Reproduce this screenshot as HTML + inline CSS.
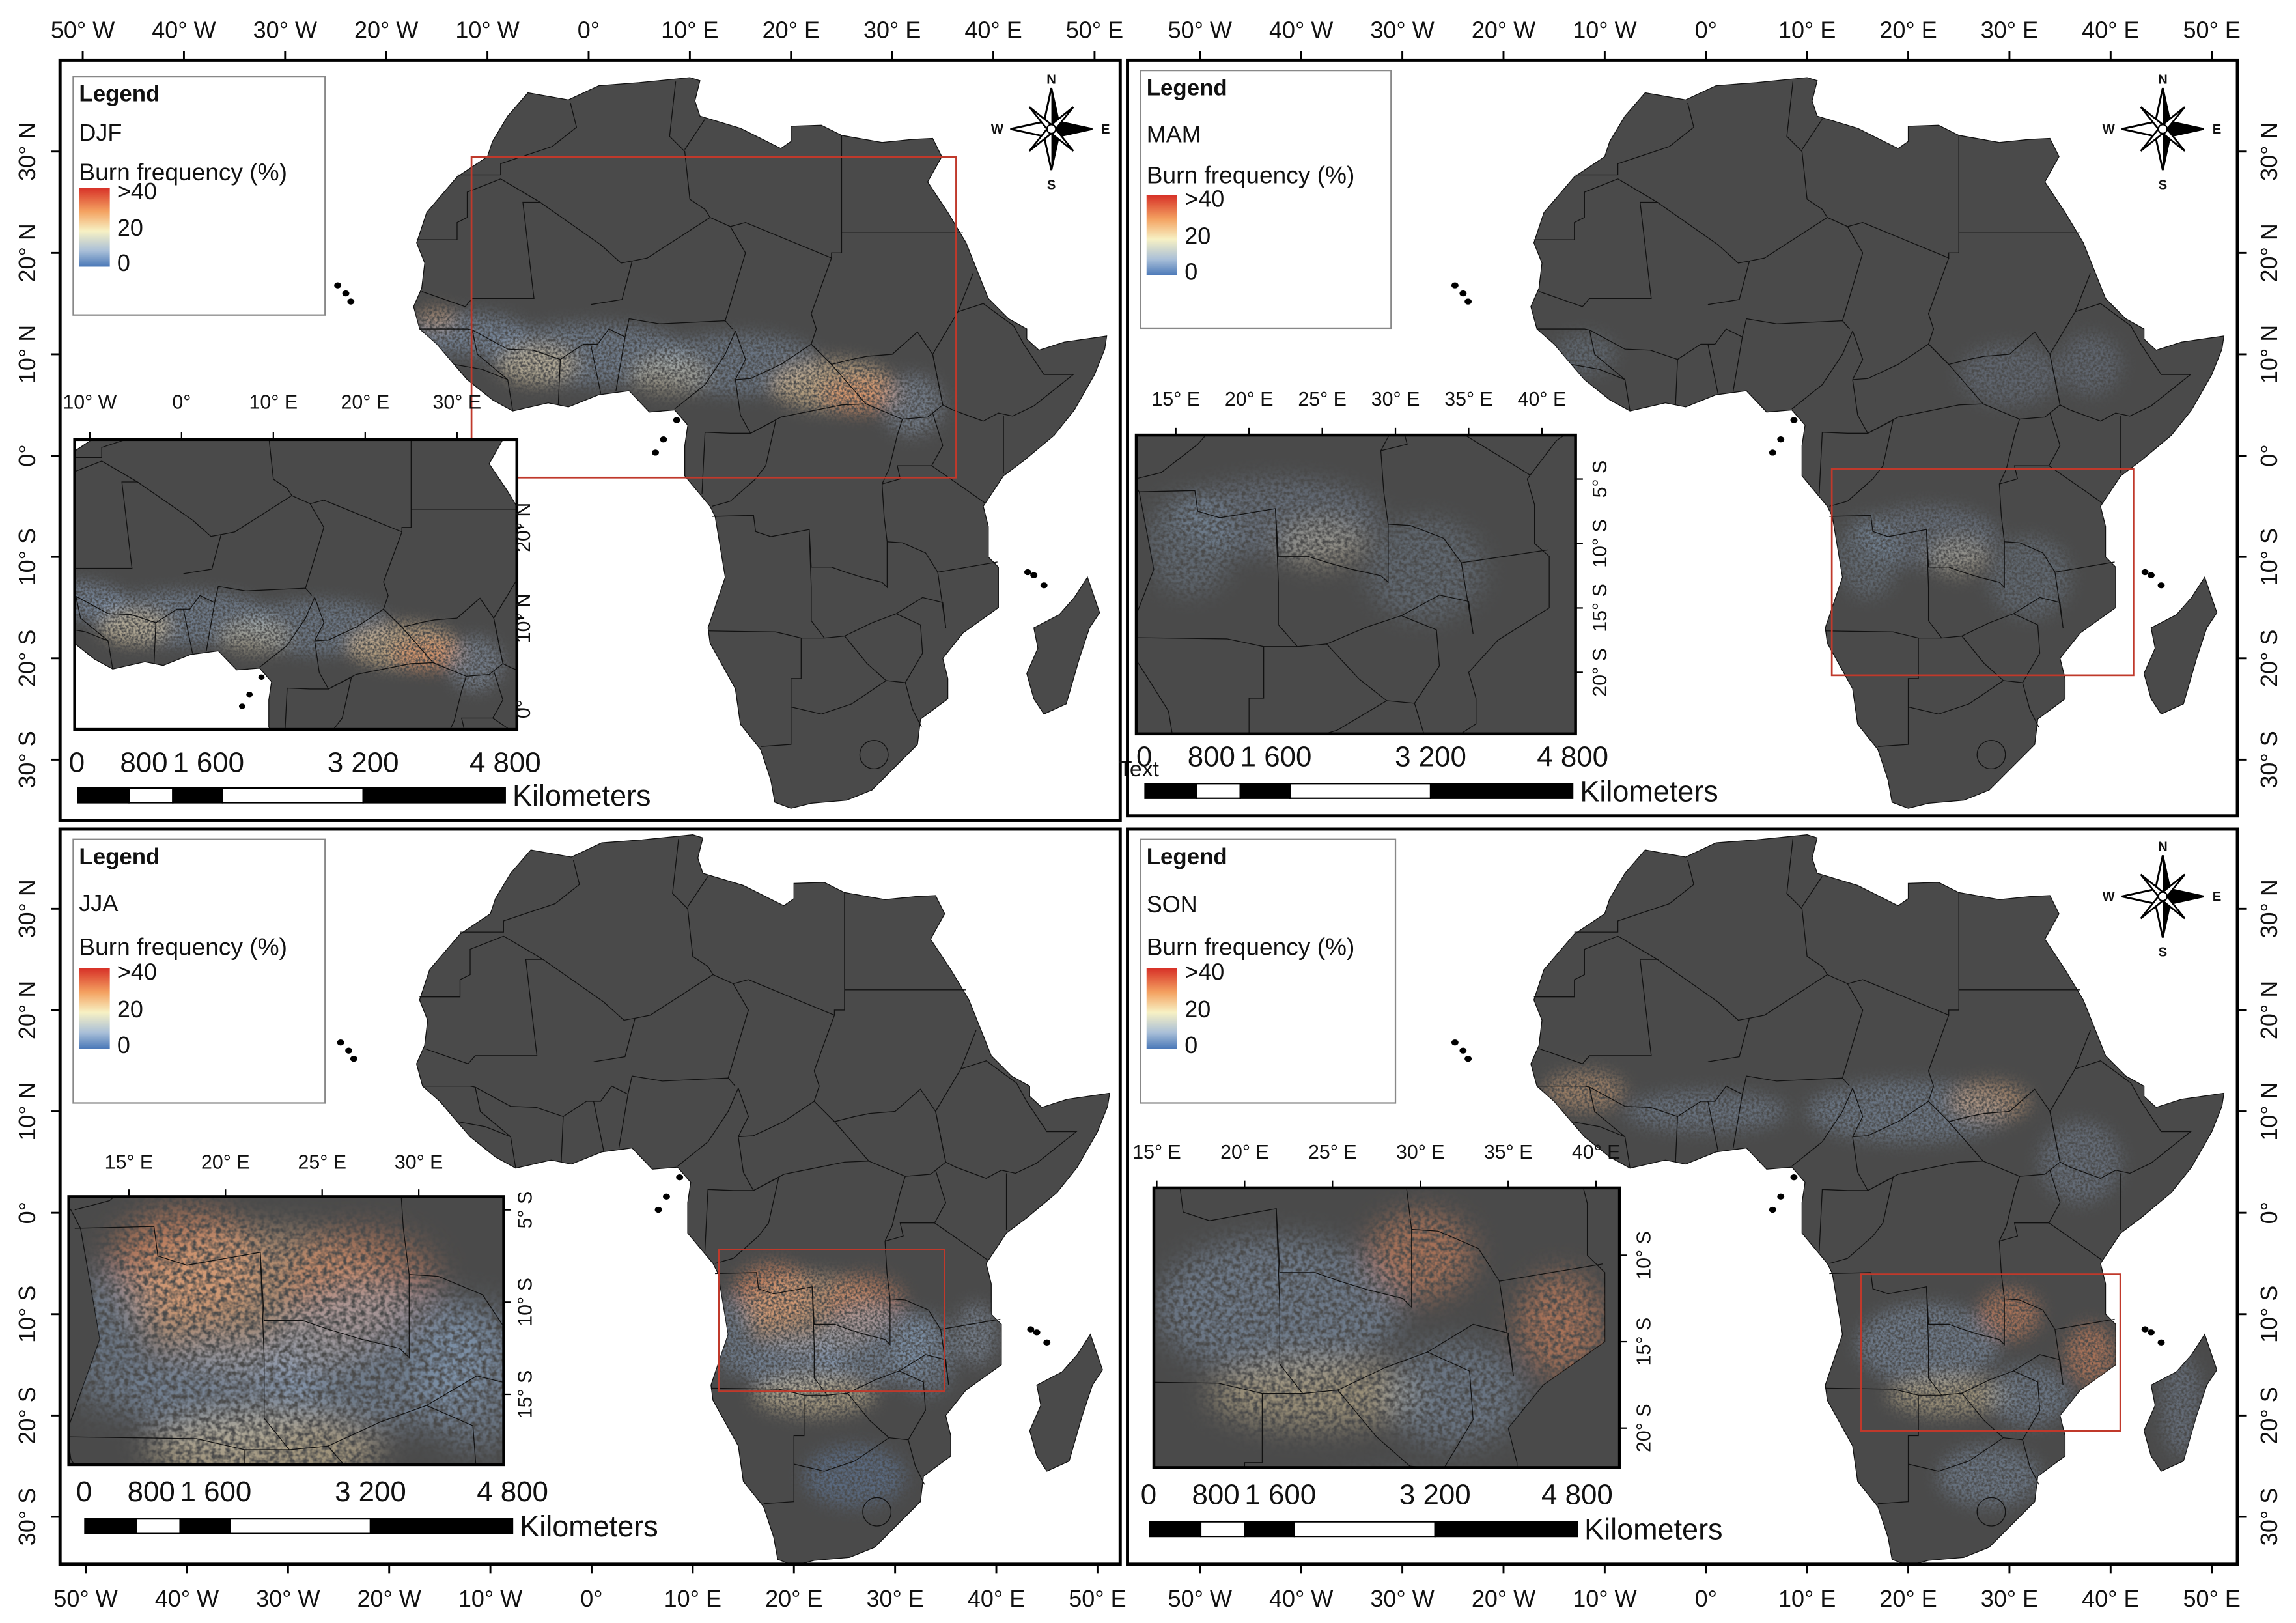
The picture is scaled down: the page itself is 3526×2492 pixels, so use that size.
<!DOCTYPE html>
<html><head><meta charset="utf-8"><style>
html,body{margin:0;padding:0;background:#fff;overflow:hidden;width:3526px;height:2492px;}
svg{display:block;font-family:"Liberation Sans",Arial,sans-serif;}
</style></head><body>
<svg id="root" width="3526" height="2492" viewBox="0 0 1568 1108" xmlns="http://www.w3.org/2000/svg">
<defs>
<linearGradient id="lg" x1="0" y1="0" x2="0" y2="1">
<stop offset="0" stop-color="#d73027"/><stop offset="0.3" stop-color="#f4a261"/><stop offset="0.55" stop-color="#f7f1c4"/><stop offset="0.8" stop-color="#a9bfd8"/><stop offset="1" stop-color="#4a78b8"/>
</linearGradient>
<filter id="speck" x="-50%" y="-50%" width="200%" height="200%">
<feGaussianBlur stdDeviation="0.8" result="b"/>
<feTurbulence type="fractalNoise" baseFrequency="4" numOctaves="2" seed="3" result="n"/>
<feColorMatrix in="n" type="matrix" values="0 0 0 0 0  0 0 0 0 0  0 0 0 0 0  0 0 0 2.6 -0.7" result="m"/>
<feComposite in="b" in2="m" operator="in"/>
</filter>
</defs>
</svg>
<script>
// ---- data ----
const lonTicks=[-50,-40,-30,-20,-10,0,10,20,30,40,50];
const latTicks=[30,20,10,0,-10,-20,-30];
const seasons=['DJF','MAM','JJA','SON'];
const blobsDJF=[[-12,12,6,2,'#8fa8c8',.55],[0,10,10,3,'#8fa8c8',.5],[-5,9,4,2,'#e9cfa0',.55],[15,9,8,3,'#8fa8c8',.45],[24,7,6,2.5,'#e9c79a',.65],[27,6,4,1.8,'#e59466',.7],[32,5,3,3,'#9fb3cf',.45],[-15,13.5,2,1,'#e8b080',.55],[8,8,4,2,'#d9cfb0',.45]];
const blobsMAM=[[22,-8,7,3,'#8fa8c8',.35],[25,-10,3,2,'#d9ccb0',.4],[32,-12,4,4,'#8fa8c8',.3],[-12,10,3,2,'#8fa8c8',.3],[30,8,5,3,'#8fa8c8',.28],[38,9,3,3,'#8fa8c8',.28],[16,-10,3,4,'#8fa8c8',.3]];
const blobsJJA=[[18,-8,4,3,'#e38a5f',.7],[22,-10,7,4,'#e7b78a',.55],[27,-9,4,3,'#e38a5f',.5],[20,-15,5,3,'#8fa8c8',.55],[28,-13,6,4,'#8fa8c8',.5],[22,-18,6,2,'#e9d3a5',.55],[33,-14,3,4,'#8fa8c8',.45],[26,-26,5,3,'#6d8fc0',.45],[38,-12,2,3,'#9fb3cf',.45],[14,-12,2,4,'#8fa8c8',.45]];
const blobsSON=[[-12,12,4,2,'#e8b080',.5],[0,10,8,2,'#8fa8c8',.4],[20,10,10,3,'#8fa8c8',.45],[28,11,4,2,'#e8b080',.5],[22,-13,7,4,'#8fa8c8',.5],[30,-10,3,2.5,'#e38a5f',.6],[38,-14,2.5,3,'#e38a5f',.6],[24,-18,6,2,'#e9d3a5',.5],[32,-18,4,3,'#8fa8c8',.45],[28,-26,5,3,'#8fa8c8',.45],[37,5,4,4,'#8fa8c8',.35],[47,-19,2,5,'#8fa8c8',.35]];
const blobSets=[blobsDJF,blobsMAM,blobsJJA,blobsSON];

const africa=[[-17,21],[-16,24],[-13,27.5],[-10,29.5],[-9.5,31],[-8,33.5],[-6,35.8],[-2,35.1],[1,36.5],[5,36.8],[10,37.3],[11,37],[10.5,35],[11,33.5],[15,32.3],[19,30.3],[20,31],[20,32.5],[23,32.6],[25,31.6],[29,30.9],[32,31.2],[34,31.3],[34.9,29.5],[33.5,27],[35.5,24],[37.3,21],[38.5,18],[39.5,15.5],[41.5,13.5],[43.3,12.5],[43.3,11.5],[44.5,10.4],[47,11.2],[51.2,11.8],[51,10.5],[50,8],[48,4.5],[46,2],[43,-0.5],[41,-2],[40,-3.5],[39,-5],[39.5,-7],[39.5,-10],[40.5,-11],[40.5,-15],[37,-17.5],[35,-20],[35.5,-22],[35.5,-24],[32.8,-26],[32.5,-28.5],[30,-31],[28,-33],[25.5,-34],[22,-34.3],[20,-34.8],[18.4,-34.2],[18,-32],[17,-29],[15,-26.5],[14.5,-23],[12,-18.5],[11.8,-17],[13.5,-12],[12.5,-6],[12,-5],[9.5,-2],[9.5,1],[9.8,3],[8.5,4.5],[6,4.3],[4,6.4],[1,6],[-2,4.8],[-4,5.2],[-7.5,4.4],[-9.5,5.5],[-12,7.5],[-13.3,9],[-15,11],[-16.7,12.5],[-17.3,14.7],[-16.5,16.5],[-16.2,19],[-17,21]];
const madagascar=[[49.3,-12],[50.5,-15.5],[49.5,-17],[48.5,-20],[47.2,-24.5],[45,-25.5],[44,-24],[43.3,-21.5],[44.4,-19],[44,-17],[46.5,-15.7],[48,-14],[49.3,-12]];
const borders=[
[[-13,27.7],[-8.7,27.7],[-8.7,28.8],[-3.6,30.5],[-1.2,32.4],[-1.8,34.8]],
[[-17,21.3],[-13,21.3],[-13,23],[-12,23.5],[-12,26],[-8.7,27.3]],
[[-8.7,27.3],[-4.8,25],[-6.5,25],[-5.5,16.3],[-5.4,15.5],[-11.5,15.5],[-12.2,14.7],[-16.5,16.2]],
[[-4.8,25],[1.2,20.8],[3.2,19],[4.3,19.2],[5.8,19.5],[12,23.5],[11.5,24.3],[10,25.3],[9.5,30],[8,31.5],[8.6,36.9]],
[[9.5,30.2],[11.5,33.2]],
[[25,31.6],[25,22]],[[25,22],[37,22]],
[[12,23.5],[14,22.6],[15.5,23],[24,19.5],[24,20],[25,20],[25,22]],
[[24,19.5],[22,14],[22.5,12.5],[22,11]],
[[4.3,19.2],[3.3,15.4],[0.2,14.9]],
[[-11.5,12.4],[-8,10.5],[-5.5,10.4],[-2.8,9.5],[-0.5,11],[0.9,11],[2,12.5],[3.6,11.7],[4,13.5],[7,13],[13.5,13.3],[14.2,12.5]],
[[13.5,13.3],[15.5,20],[14,22.6]],
[[8.5,4.6],[11.5,7],[13.5,10],[14.5,12.3]],
[[14.5,7.5],[16,7.6],[19,9],[22,11],[24,9],[27.4,5.1],[25,5],[19,3.8],[16,2.2],[15,4],[14.5,7.5]],
[[22,11],[24,9],[26,9.5],[27.5,9.8],[30,10],[32.5,12.2],[34,10],[35,5],[33.5,3.8],[31,3.6],[27.4,5.1]],
[[36.5,14.2],[38,18]],
[[36.5,14.2],[39,15],[42,12.8],[43,11],[45,8],[47.9,8],[44,4.9],[41.9,3.9],[40.5,4.2],[39,3.4],[36,4.5],[35,5],[34,10],[36.5,14.2]],
[[41,-1.7],[41,3.9]],
[[33.9,-1],[37.5,-3.5],[39.2,-4.7]],[[34,4.2],[35,1],[33.9,-1]],
[[12.2,-6],[16.3,-5.9],[16.5,-7.5],[18,-8],[21.8,-7.3],[22,-11],[24,-11],[25.4,-11.5],[27,-12],[29,-12.5],[29.5,-13],[29.5,-8.5],[29.2,-6],[29,-2.8],[29.7,-1.3],[30.5,2],[31,3.6]],
[[11.2,-3.8],[11.5,2.3],[14,2.2],[16,2.2],[18.5,3.5],[17.5,-1],[16.5,-2.3],[14,-4.5],[12.2,-5]],
[[11.8,-17.3],[18.5,-17.4],[21,-18],[23.3,-18]],
[[21.8,-7.3],[22,-13],[22,-16.3],[23.3,-18]],
[[21,-18],[21,-22],[20,-22],[20,-24.8],[20,-28.5],[17,-28.7]],
[[20,-24.8],[23,-25.5],[26,-24.5],[29.4,-22.2],[27.5,-20.5],[25.3,-17.8],[23.3,-18]],
[[25.3,-17.8],[28,-16.5],[30.4,-15.6],[32.8,-16.7],[33,-19.5],[31.3,-22.4],[29.4,-22.2]],
[[30.4,-15.6],[33,-14],[35,-14.5],[35.3,-17],[34.5,-11.5],[40.4,-10.5]],
[[29.5,-8.5],[31,-8.6],[33.3,-9.6],[34.5,-11.5]],
[[31.3,-22.4],[32,-25],[32.9,-26.8]],
[[29,-2.8],[30.8,-2.3],[30.5,-1],[33.9,-1]],
[[-16.7,12.5],[-12,12.5],[-11.5,12.4]],
[[-13.3,9],[-10.5,8.5],[-8,7.5],[-7.5,4.4]],[[-11.5,12.4],[-11,10],[-8,7.5]],
[[-3,5],[-2.8,9.5]],[[1.2,6.1],[0.2,11]],[[2.7,6.4],[3.6,11.7]],
[[14.5,12.3],[15.5,9.5],[14.5,7.5]]];
const islands=[[-24,16],[-23.5,15.2],[-24.8,16.8],[8.7,3.5],[6.6,0.3],[7.4,1.6],[44,-11.8],[43.4,-11.5],[45,-12.8],[57.5,-20.3],[55.5,-21.1]];

const panels=[
 {ox:402,oy:311,fr:[41,41,724,519],lx:[50,52,172,163],sy:90,bfy:117,gy:[128,182],
  inset:{x:51,y:300,w:302,h:198,tx:124,ty:484,px:6.27,py:6.2,lons:[-10,0,10,20,30],lats:[20,10,0],bg:'#fff',topY:284,rightX:362},
  rect:[322,107,331,219],link:true,bar:{x:53,y:538,ty:527},comp:[718,88],
  axisTop:true,axisLeft:true,axisRight:false,axisBottom:false},
 {ox:1165,oy:311,fr:[770,41,758,516],lx:[779,48,171,176],sy:91,bfy:119,gy:[133,188],
  inset:{x:776,y:297,w:300,h:204,tx:653,ty:283,px:10,py:8.8,lons:[15,20,25,30,35,40],lats:[-5,-10,-15,-20],bg:'#4a4a4a',topY:282,rightX:1097},
  rect:[1251,320,206,141],bar:{x:782,y:535,ty:523},comp:[1477,88],text:true,
  axisTop:true,axisLeft:false,axisRight:true,axisBottom:false},
 {ox:404,oy:828,fr:[41,566,724,502],lx:[50,573,172,180],sy:616,bfy:646,gy:[661,716],
  inset:{x:47,y:817,w:297,h:183,tx:-110,ty:763,px:13.2,py:12.6,lons:[15,20,25,30],lats:[-5,-10,-15],bg:'#4a4a4a',topY:803,rightX:363},
  rect:[491,853,154,97],bar:{x:58,y:1037,ty:1025},comp:null,
  axisTop:false,axisLeft:true,axisRight:false,axisBottom:true},
 {ox:1165,oy:828,fr:[770,566,758,502],lx:[779,573,174,180],sy:617,bfy:646,gy:[661,716],
  inset:{x:788,y:811,w:318,h:191,tx:610,ty:739,px:12,py:11.8,lons:[15,20,25,30,35,40],lats:[-10,-15,-20],bg:'#4a4a4a',topY:796,rightX:1127},
  rect:[1271,870,177,107],bar:{x:785,y:1039,ty:1027},comp:[1477,612],
  axisTop:false,axisLeft:false,axisRight:true,axisBottom:true}
];
const SX=6.91, SY=6.92;
const NS='http://www.w3.org/2000/svg';
const root=document.getElementById('root');
function mk(tag,attrs,parent){const e=document.createElementNS(NS,tag);for(const k in attrs)e.setAttribute(k,attrs[k]);(parent||root).appendChild(e);return e;}
function pts(a){return a.map(p=>p[0]+','+(-p[1])).join(' ');}
function lonLabel(l){return l===0?'0°':Math.abs(l)+'° '+(l<0?'W':'E');}
function latLabel(l){return l===0?'0°':Math.abs(l)+'° '+(l<0?'S':'N');}
let clipId=0;
function drawMap(parent,blobs,transform){
  const g=mk('g',{transform:transform},parent);
  
  
  const cid='ca'+(clipId++);
  const cp=mk('clipPath',{id:cid},g);
  mk('polygon',{points:pts(africa)},cp);
  mk('polygon',{points:pts(madagascar)},cp);
  const land=mk('polygon',{points:pts(africa),fill:'#4a4a4a',stroke:'#111','stroke-width':1.3,'vector-effect':'non-scaling-stroke'},g);
  
  
  const mad=mk('polygon',{points:pts(madagascar),fill:'#4a4a4a',stroke:'#111','stroke-width':1.3,'vector-effect':'non-scaling-stroke'},g);
  
  
  const bg=mk('g',{'clip-path':'url(#'+cid+')',filter:'url(#speck)'},g);
  
  
  blobs.forEach(b=>{const e=mk('ellipse',{cx:b[0],cy:-b[1],rx:b[2],ry:b[3],fill:b[4],'fill-opacity':b[5]},bg);
    
    });
  borders.forEach(b=>{const e=mk('polyline',{points:pts(b),fill:'none',stroke:'#111','stroke-width':1.3,'vector-effect':'non-scaling-stroke'},g);
    
    });
  const les=mk('circle',{cx:28.2,cy:29.5,r:1.4,fill:'none',stroke:'#111','stroke-width':1.3,'vector-effect':'non-scaling-stroke'},g);
  
  
  islands.forEach(p=>{const e=mk('ellipse',{cx:p[0],cy:-p[1],rx:0.35,ry:0.3,fill:'#000'},g);
    
    });
  return g;
}
function txt(parent,x,y,s,size,extra){const t=mk('text',Object.assign({x:x,y:y,'font-size':size,fill:'#111'},extra||{}),parent);t.textContent=s;return t;}

panels.forEach((P,i)=>{
  const pg=mk('g',{});
  
  
  const [fx,fy,fw,fh]=P.fr;
  const pc='pc'+i;
  const cpp=mk('clipPath',{id:pc},pg); mk('rect',{x:fx,y:fy,width:fw,height:fh},cpp);
  const mg=mk('g',{'clip-path':'url(#'+pc+')'},pg);
  drawMap(mg,blobSets[i],'translate('+P.ox+','+P.oy+') scale('+SX+','+SY+')');
  const rr=mk('rect',{x:P.rect[0],y:P.rect[1],width:P.rect[2],height:P.rect[3],fill:'none',stroke:'#c0392b','stroke-width':1.2},pg);
  
  
  if(P.link){const l=mk('line',{x1:P.inset.x+P.inset.w,y1:326,x2:P.rect[0],y2:326,stroke:'#c0392b','stroke-width':1},pg);
    
    }
  const I=P.inset;
  const ig=mk('g',{},pg);
  
  
  const ic='ic'+i;
  const cpi=mk('clipPath',{id:ic},ig); mk('rect',{x:I.x,y:I.y,width:I.w,height:I.h},cpi);
  mk('rect',{x:I.x,y:I.y,width:I.w,height:I.h,fill:I.bg},ig);
  const ing=mk('g',{'clip-path':'url(#'+ic+')'},ig);
  drawMap(ing,blobSets[i],'translate('+I.tx+','+I.ty+') scale('+I.px+','+I.py+')');
  mk('rect',{x:I.x,y:I.y,width:I.w,height:I.h,fill:'none',stroke:'#000','stroke-width':2},ig);
  I.lons.forEach(l=>{const x=I.tx+I.px*l;
    mk('line',{x1:x,y1:I.y,x2:x,y2:I.y-5,stroke:'#000','stroke-width':1},ig);
    const t=txt(ig,x,I.topY-5,lonLabel(l),13.5,{'text-anchor':'middle'});
    
    });
  I.lats.forEach(l=>{const y=I.ty-I.py*l;
    mk('line',{x1:I.x+I.w,y1:y,x2:I.x+I.w+5,y2:y,stroke:'#000','stroke-width':1},ig);
    const t=txt(ig,I.rightX,y,latLabel(l),13.5,{'text-anchor':'middle',transform:'rotate(-90 '+I.rightX+' '+y+')'});
    
    });
  const [lx,ly,lw,lh]=P.lx;
  const lg=mk('g',{},pg);
  
  
  mk('rect',{x:lx,y:ly,width:lw,height:lh,fill:'#fff',stroke:'#888','stroke-width':1},lg);
  txt(lg,lx+4,ly+17,'Legend',15.5,{'font-weight':'bold'});
  txt(lg,lx+4,P.sy+6,seasons[i],16);
  txt(lg,lx+4,P.bfy+6,'Burn frequency (%)',16.5);
  const gb=mk('rect',{x:lx+4,y:P.gy[0],width:21,height:P.gy[1]-P.gy[0],fill:'url(#lg)'},lg);
  
  
  txt(lg,lx+30,P.gy[0]+8,'>40',16);
  txt(lg,lx+30,(P.gy[0]+P.gy[1])/2+6,'20',16);
  txt(lg,lx+30,P.gy[1]+3,'0',16);
  const B=P.bar;
  const sb=mk('g',{},pg);
  
  
  const segs=[[0,35,'#000'],[35,65,'#fff'],[65,99,'#000'],[99,195,'#fff'],[195,292,'#000']];
  segs.forEach(s=>mk('rect',{x:B.x+s[0],y:B.y,width:s[1]-s[0],height:10,fill:s[2],stroke:'#000','stroke-width':1},sb));
  txt(sb,B.x-6,B.ty,'0',19.5);
  txt(sb,B.x+29,B.ty,'800',19.5);
  txt(sb,B.x+65,B.ty,'1 600',19.5);
  txt(sb,B.x+195,B.ty,'3 200',19.5,{'text-anchor':'middle'});
  txt(sb,B.x+292,B.ty,'4 800',19.5,{'text-anchor':'middle'});
  txt(sb,B.x+297,B.y+12,'Kilometers',20);
  if(P.text) txt(sb,764,530,'Text',15);
  if(P.comp){const [cx,cy]=P.comp;const cg=mk('g',{transform:'translate('+cx+','+cy+')'},pg);
    
    
    mk('polygon',{points:'0,-28 5,-5 28,0 5,5 0,28 -5,5 -28,0 -5,-5',fill:'#fff',stroke:'#000','stroke-width':1.3},cg);
    mk('polygon',{points:'0,-28 0,28 5,5 28,0 5,-5',fill:'#000'},cg);
    mk('polygon',{points:'-15,-15 -3,0 -15,15 0,3 15,15 3,0 15,-15 0,-3',fill:'#fff',stroke:'#000','stroke-width':1.2},cg);
    mk('circle',{r:3,fill:'#fff',stroke:'#000'},cg);
    txt(cg,0,-31,'N',9,{'text-anchor':'middle','font-weight':'bold'});
    txt(cg,0,41,'S',9,{'text-anchor':'middle','font-weight':'bold'});
    txt(cg,-37,3,'W',9,{'text-anchor':'middle','font-weight':'bold'});
    txt(cg,37,3,'E',9,{'text-anchor':'middle','font-weight':'bold'});}
  const fr=mk('rect',{x:fx,y:fy,width:fw,height:fh,fill:'none',stroke:'#000','stroke-width':2.2},pg);
  
  
  const ax=mk('g',{},pg);
  
  
  lonTicks.forEach(l=>{const x=P.ox+SX*l;
    if(P.axisTop){mk('line',{x1:x,y1:fy,x2:x,y2:fy-6,stroke:'#000','stroke-width':1.3},ax);
      const t=txt(ax,x,26,lonLabel(l),16,{'text-anchor':'middle'});
      
      }
    if(P.axisBottom){mk('line',{x1:x,y1:fy+fh,x2:x,y2:fy+fh+6,stroke:'#000','stroke-width':1.3},ax);
      const t=txt(ax,x,1097,lonLabel(l),16,{'text-anchor':'middle'});
      
      }});
  latTicks.forEach(l=>{const y=P.oy-SY*l;
    if(P.axisLeft){mk('line',{x1:fx,y1:y,x2:fx-6,y2:y,stroke:'#000','stroke-width':1.3},ax);
      const t=txt(ax,24,y,latLabel(l),16,{'text-anchor':'middle',transform:'rotate(-90 24 '+y+')'});
      
      }
    if(P.axisRight){mk('line',{x1:fx+fw,y1:y,x2:fx+fw+6,y2:y,stroke:'#000','stroke-width':1.3},ax);
      const t=txt(ax,1555,y,latLabel(l),16,{'text-anchor':'middle',transform:'rotate(-90 1555 '+y+')'});
      
      }});
});
</script>
</body></html>
